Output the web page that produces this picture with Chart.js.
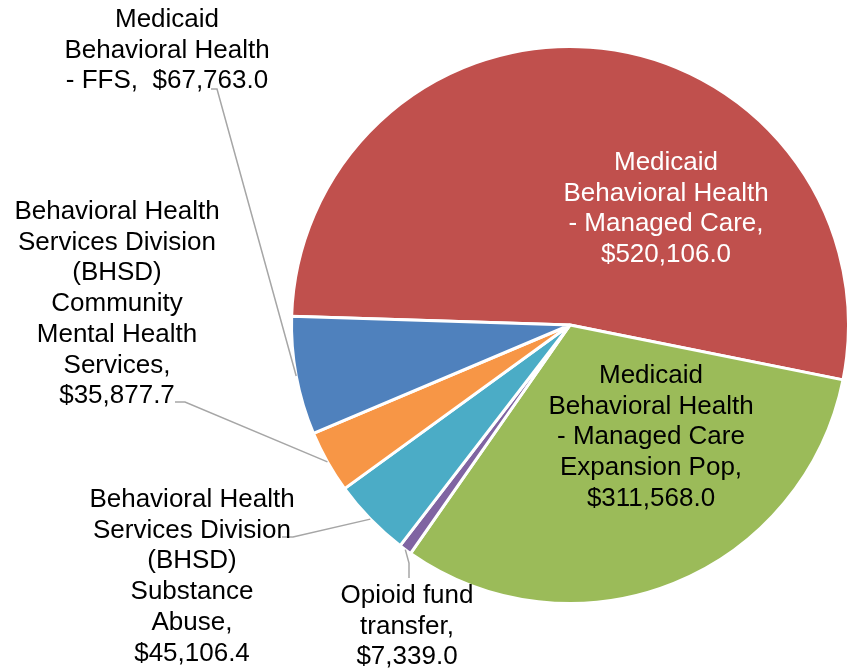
<!DOCTYPE html>
<html>
<head>
<meta charset="utf-8">
<script src="https://cdn.jsdelivr.net/npm/chart.js@4/dist/chart.umd.min.js"></script>
<style>
  html, body { margin: 0; padding: 0; background: #fff; overflow: hidden; }
</style>
</head>
<body>
<canvas id="pie" width="851" height="670"></canvas>
<script>
// data, in the order Excel drew the slices (clockwise)
const categories = [
  'Medicaid Behavioral Health - Managed Care',
  'Medicaid Behavioral Health - Managed Care Expansion Pop',
  'Opioid fund transfer',
  'Behavioral Health Services Division (BHSD) Substance Abuse',
  'Behavioral Health Services Division (BHSD) Community Mental Health Services',
  'Medicaid Behavioral Health - FFS'
];
const values = [520106.0, 311568.0, 7339.0, 45106.4, 35877.7, 67763.0];
const colors = ['#C0504D', '#9BBB59', '#8064A2', '#4BACC6', '#F79646', '#4F81BD'];

// how each label wraps, {v} is the formatted value
const labelLines = [
  ['Medicaid', 'Behavioral Health', '- Managed Care,', '{v}'],
  ['Medicaid', 'Behavioral Health', '- Managed Care', 'Expansion Pop,', '{v}'],
  ['Opioid fund', 'transfer,', '{v}'],
  ['Behavioral Health', 'Services Division', '(BHSD)', 'Substance', 'Abuse,', '{v}'],
  ['Behavioral Health', 'Services Division', '(BHSD)', 'Community', 'Mental Health', 'Services,', '{v}'],
  ['Medicaid', 'Behavioral Health', '- FFS,  {v}']
];

// label placement, offsets from the pie centre (first baseline), leader elbow + end
const labelPos = [
  {dx: 96, dy: -155, color: '#fff'},
  {dx: 81, dy: 58, color: '#000'},
  {dx: -163, dy: 278, color: '#000', elbow: [-161, 238], end: [-161, 253]},
  {dx: -378, dy: 182, color: '#000', elbow: [-277, 212], end: [-288, 212]},
  {dx: -453, dy: -106, color: '#000', elbow: [-385, 77], end: [-395, 77]},
  {dx: -403, dy: -298, color: '#000', elbow: [-353, -236], end: [-359, -236]}
];

const fmt = v => '$' + v.toLocaleString('en-US', {minimumFractionDigits: 1, maximumFractionDigits: 1});

const labelPlugin = {
  id: 'excelLabels',
  afterDraw(chart) {
    const ctx = chart.ctx;
    const arcs = chart.getDatasetMeta(0).data;
    ctx.save();
    // leader lines
    ctx.strokeStyle = '#A6A6A6';
    ctx.lineWidth = 1.5;
    arcs.forEach((arc, i) => {
      const p = labelPos[i];
      if (!p.elbow) return;
      const a = arc.getProps(['x', 'y', 'startAngle', 'endAngle', 'outerRadius'], true);
      const mid = (a.startAngle + a.endAngle) / 2;
      ctx.beginPath();
      ctx.moveTo(a.x + Math.cos(mid) * a.outerRadius, a.y + Math.sin(mid) * a.outerRadius);
      ctx.lineTo(a.x + p.elbow[0], a.y + p.elbow[1]);
      ctx.lineTo(a.x + p.end[0], a.y + p.end[1]);
      ctx.stroke();
    });
    // texts
    ctx.font = '26px "Liberation Sans", Arial, sans-serif';
    ctx.textAlign = 'center';
    ctx.textBaseline = 'alphabetic';
    const lh = 30.7;
    arcs.forEach((arc, i) => {
      const p = labelPos[i];
      ctx.fillStyle = p.color;
      labelLines[i].forEach((ln, k) => {
        ctx.fillText(ln.replace('{v}', fmt(values[i])), arc.x + p.dx, arc.y + p.dy + k * lh);
      });
    });
    ctx.restore();
  }
};

const config = {
  type: 'pie',
  data: {
    labels: categories,
    datasets: [{
      data: values,
      backgroundColor: colors,
      borderColor: '#ffffff',
      borderWidth: 3
    }]
  },
  options: {
    responsive: false,
    animation: false,
    rotation: 271.8,
    layout: {
      padding: {left: 290, right: 1, top: 45, bottom: 65}
    },
    plugins: {
      legend: {display: false},
      tooltip: {enabled: false},
      title: {display: false}
    }
  },
  plugins: [labelPlugin]
};

document.addEventListener('DOMContentLoaded', function () {
  const canvaPie = document.getElementById('pie').getContext('2d');
  const chart1 = new Chart(canvaPie, config);
});
</script>
</body>
</html>
